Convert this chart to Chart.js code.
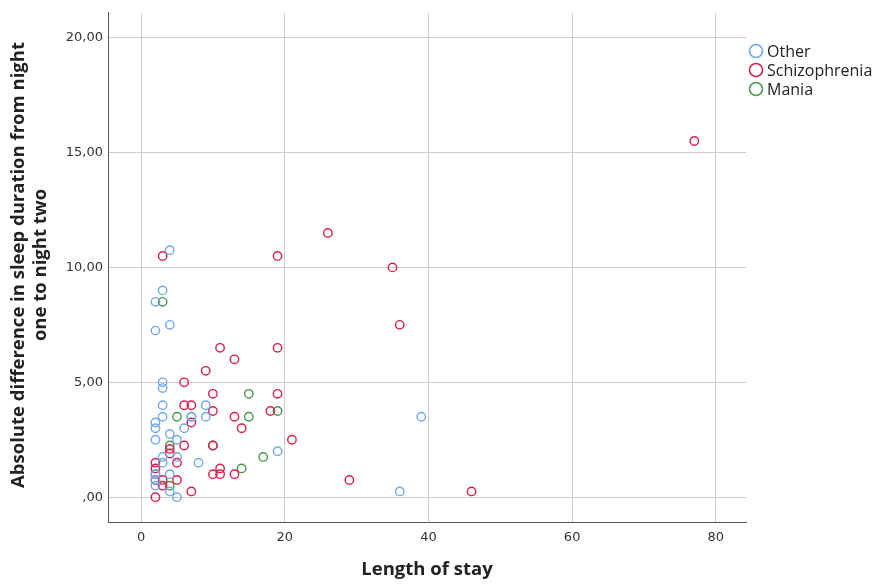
<!DOCTYPE html>
<html>
<head>
<meta charset="utf-8">
<script src="https://cdn.jsdelivr.net/npm/chart.js@4/dist/chart.umd.min.js"></script>
<style>
html,body{margin:0;padding:0;background:#fff;}
#wrap{width:879px;height:586px;position:relative;}
</style>
</head>
<body>
<div id="wrap"><canvas id="c" width="879" height="586"></canvas></div>
<script>
// Length of stay (x) and absolute difference in sleep duration (y)
const otherX = [2,3,4,2,4,3,3,3,3,2,2,2,4,5,6,7,9,9,8,19,36,39,2,2,3,3,4,4,5,5,2,7];
const otherY = [8.5,9.0,10.75,7.25,7.5,5.0,4.75,4.0,3.5,3.25,3.0,2.5,2.75,2.5,3.0,3.5,4.0,3.5,1.5,2.0,0.25,3.5,0.5,0.75,1.75,1.5,1.0,0.25,0.0,1.75,1.0,3.5];
const schizoX = [77,26,35,19,36,3,11,13,19,9,6,10,19,6,7,10,7,13,14,18,21,6,4,4,5,2,2,2,2,3,3,5,2,7,10,11,11,13,29,46,10];
const schizoY = [15.5,11.5,10.0,10.5,7.5,10.5,6.5,6.0,6.5,5.5,5.0,4.5,4.5,4.0,4.0,3.75,3.25,3.5,3.0,3.75,2.5,2.25,2.1,1.9,1.5,1.5,1.25,1.0,0.75,0.75,0.5,0.75,0.0,0.25,1.0,1.0,1.25,1.0,0.75,0.25,2.25];
const maniaX = [3,5,4,15,15,19,10,17,14,4];
const maniaY = [8.5,3.5,2.25,4.5,3.5,3.75,2.25,1.75,1.25,0.5];
const seriesNames = ['Other','Schizophrenia','Mania'];
const xTicks = [0,20,40,60,80];
const yTicks = [0,5,10,15,20];
const yTickLabels = [',00','5,00','10,00','15,00','20,00'];

const colors = ['#72a9e8','#dc1e4b','#45994a'];

function pts(xs, ys){ return xs.map((x,i)=>({x:x,y:ys[i]})); }

const AREA = {left:108, right:746, top:8, bottom:522};

const titlesPlugin = {
  id:'titles',
  afterDraw(chart){
    const ctx = chart.ctx;
    const ca = chart.chartArea;
    ctx.save();
    ctx.fillStyle = '#222';
    ctx.font = 'bold 18.5px "Open Sans", sans-serif';
    ctx.textAlign = 'center';
    ctx.textBaseline = 'middle';
    ctx.fillText('Length of stay', (ca.left+ca.right)/2, 570);
    ctx.translate(0, 265);
    ctx.rotate(-Math.PI/2);
    ctx.fillText('Absolute difference in sleep duration from night', 0, 19);
    ctx.fillText('one to night two', 0, 41);
    ctx.restore();
    // legend
    ctx.save();
    ctx.font = '16px "Open Sans", sans-serif';
    ctx.textAlign = 'left';
    ctx.textBaseline = 'middle';
    const ly = [51, 70, 89];
    seriesNames.forEach((n,i)=>{
      ctx.beginPath();
      ctx.arc(756, ly[i], 6.5, 0, Math.PI*2);
      ctx.lineWidth = 1.5;
      ctx.strokeStyle = colors[i];
      ctx.stroke();
      ctx.fillStyle = '#222';
      ctx.fillText(n, 767, ly[i]+1);
    });
    ctx.restore();
  }
};

const bgPlugin = {
  id:'bg',
  beforeDraw(chart){
    const ctx = chart.ctx;
    ctx.save();
    ctx.fillStyle = '#fff';
    ctx.fillRect(0,0,chart.width,chart.height);
    ctx.restore();
  }
};

new Chart(document.getElementById('c'), {
  type:'scatter',
  data:{
    datasets:[
      {label:seriesNames[0], data:pts(otherX,otherY)},
      {label:seriesNames[1], data:pts(schizoX,schizoY)},
      {label:seriesNames[2], data:pts(maniaX,maniaY)}
    ].map((d,i)=>Object.assign(d,{
      pointRadius:4.2, pointHoverRadius:4.2, pointBorderWidth:1.4,
      borderColor:colors[i], backgroundColor:'rgba(0,0,0,0)',
      pointBackgroundColor:'rgba(0,0,0,0)', pointBorderColor:colors[i]
    }))
  },
  options:{
    responsive:false,
    animation:false,
    events:[],
    layout:{padding:{left:0, top:AREA.top, right:879-AREA.right, bottom:0}},
    plugins:{legend:{display:false}, tooltip:{enabled:false}},
    scales:{
      x:{
        type:'linear', min:-4.6, max:84.2,
        afterFit(s){ s.height = 586 - AREA.bottom; },
        afterBuildTicks(s){ s.ticks = xTicks.map(v=>({value:v})); },
        grid:{color:'#cccccc', lineWidth:1, drawTicks:false},
        border:{color:'#555', width:1},
        ticks:{color:'#333', font:{size:13, family:'"DejaVu Sans", sans-serif'}, padding:8,
          callback:(v)=>String(v)}
      },
      y:{
        type:'linear', min:-1.08, max:21.08,
        afterFit(s){ s.width = AREA.left; },
        afterBuildTicks(s){ s.ticks = yTicks.map(v=>({value:v})); },
        grid:{color:'#cccccc', lineWidth:1, drawTicks:false},
        border:{color:'#555', width:1},
        ticks:{color:'#333', font:{size:13, family:'"DejaVu Sans", sans-serif'}, padding:5,
          callback:(v)=>yTickLabels[yTicks.indexOf(v)]}
      }
    }
  },
  plugins:[bgPlugin, titlesPlugin]
});
</script>
</body>
</html>
